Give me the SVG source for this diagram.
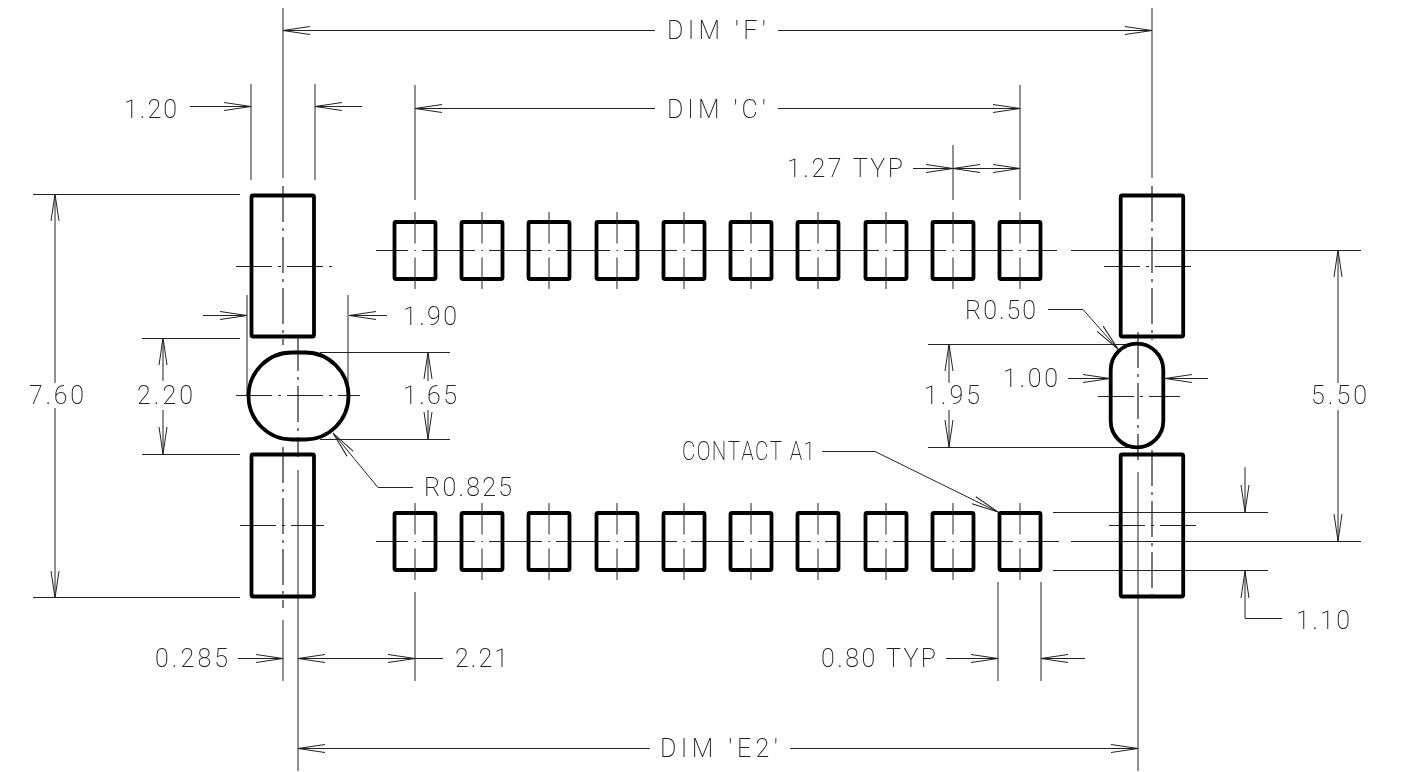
<svg xmlns="http://www.w3.org/2000/svg" xmlns:xlink="http://www.w3.org/1999/xlink" width="1403" height="772" viewBox="0 0 1403 772">
<style>
text{font-family:"Roboto","Liberation Sans",sans-serif;font-weight:200;font-size:25px;fill:#222;font-kerning:none}
#labels{filter:url(#gray)}
.pad{fill:none;stroke:#000;stroke-width:3.800;stroke-linejoin:round}
.t{fill:none;stroke:#222;stroke-width:1}
.a{marker-end:url(#arr)}
.b{marker-start:url(#arr);marker-end:url(#arr)}
.c{fill:none;stroke:#222;stroke-width:1.200;stroke-dasharray:36 6 3 6}
</style>
<defs>
<filter id="gray" filterUnits="userSpaceOnUse" x="0" y="0" width="1403" height="772" color-interpolation-filters="sRGB"><feOffset dx="0" dy="0"/></filter>
<marker id="arr" markerUnits="userSpaceOnUse" markerWidth="30" markerHeight="12" refX="27" refY="6" orient="auto-start-reverse" viewBox="0 0 30 12">
<path d="M0 2L27 6L0 10" fill="none" stroke="#222" stroke-width="1"/>
</marker>
<g id="smallpad">
<rect class="pad" x="-20.500" y="-28.500" width="41" height="57" rx="1.500"/>
<path class="t" d="M0-38.500V-7M0 7V38.500M-.5 0H1"/>
</g>
</defs>

<g id="connectors">
<path class="t" d="M283 8V178M1152 8V178M251 84V180M315 84V180M415 85V200M1020 85V200M953 145V200
M33 194.500H240M33 597.500H240M142 338.500H240M142 454.500H240
M247 295V395M348 295V395M320 352.500H450M320 439.500H450
M928 344.500H1135M928 447.500H1135
M298 470V771M1138 472V771
M283 620V681M415 592V681M998 582V681M1041 582V681
M1071 250.500H1361M1071 541.500H1361M1053 512.500H1268M1053 570.500H1268"/>
<path class="t" d="M376 250.500H408M422 250.500H475M489 250.500H542M556 250.500H610M624 250.500H677M691 250.500H744M758 250.500H811M825 250.500H879M893 250.500H946M960 250.500H1013M1027 250.500H1057
M376 541.500H408M422 541.500H475M489 541.500H542M556 541.500H610M624 541.500H677M691 541.500H744M758 541.500H811M825 541.500H879M893 541.500H946M960 541.500H1013M1027 541.500H1059"/>
<path class="c" d="M283 186V345M283 447V608M298 335V457M1152 186V340M1152 450V603M1138 332V460M236 266.500H332M240 525.500H324M236 395.500H360M1104 266.500H1195M1098 396.500H1180M1109 525.500H1198"/>
<path class="t a" d="M655 30.500H283"/>
<path class="t a" d="M778 30.500H1152"/>
<path class="t a" d="M655 108.500H415"/>
<path class="t a" d="M778 108.500H1020"/>
<path class="t a" d="M190 106.500H251"/>
<path class="t a" d="M362 106.500H315"/>
<path class="t a" d="M913 168.500H953"/>
<path class="t b" d="M953 168.500H1020"/>
<path class="t a" d="M55 383V194"/>
<path class="t a" d="M55 408V598"/>
<path class="t a" d="M163 381V338"/>
<path class="t a" d="M163 410V454"/>
<path class="t a" d="M203 315.500H247"/>
<path class="t a" d="M387 315.500H349"/>
<path class="t a" d="M428 381V352"/>
<path class="t a" d="M428 410V439"/>
<path class="t a" d="M413 487.500H378L333 433"/>
<path class="t a" d="M1048 309.500H1083L1118 349"/>
<path class="t a" d="M1068 378.500H1110"/>
<path class="t a" d="M1208 378.500H1165"/>
<path class="t a" d="M949 383V344"/>
<path class="t a" d="M949 410V447"/>
<path class="t a" d="M1338 383V250"/>
<path class="t a" d="M1338 410V541"/>
<path class="t a" d="M822 451.500H875L998 512"/>
<path class="t a" d="M1245 467V512"/>
<path class="t a" d="M1282 618.500H1245V571"/>
<path class="t a" d="M238 658.500H283"/>
<path class="t b" d="M298 658.500H415"/>
<path class="t" d="M415 658.500H443"/>
<path class="t a" d="M946 658.500H998"/>
<path class="t a" d="M1085 658.500H1041"/>
<path class="t a" d="M650 748.500H298"/>
<path class="t a" d="M790 748.500H1138"/>
</g>

<g id="pad-left-top"><rect class="pad" x="251.500" y="195.500" width="62.500" height="141" rx="1.500"/></g>
<g id="pad-left-bottom"><rect class="pad" x="251.500" y="454.500" width="62.500" height="142" rx="1.500"/></g>
<g id="pad-right-top"><rect class="pad" x="1120.700" y="195.500" width="62.500" height="141" rx="1.500"/></g>
<g id="pad-right-bottom"><rect class="pad" x="1120.700" y="454.500" width="62.500" height="142" rx="1.500"/></g>
<g id="hole-left"><rect class="pad" x="248.500" y="352.500" width="100" height="87" rx="43.500"/></g>
<g id="hole-right"><rect class="pad" x="1110.700" y="343.700" width="52.600" height="103.600" rx="26.300"/></g>

<g id="pads-top">
<use id="t1" href="#smallpad" x="415" y="250.500"/><use id="t2" href="#smallpad" x="482" y="250.500"/><use id="t3" href="#smallpad" x="549" y="250.500"/><use id="t4" href="#smallpad" x="617" y="250.500"/><use id="t5" href="#smallpad" x="684" y="250.500"/><use id="t6" href="#smallpad" x="751" y="250.500"/><use id="t7" href="#smallpad" x="818" y="250.500"/><use id="t8" href="#smallpad" x="886" y="250.500"/><use id="t9" href="#smallpad" x="953" y="250.500"/><use id="t10" href="#smallpad" x="1020" y="250.500"/>
</g>
<g id="pads-bottom">
<use id="b1" href="#smallpad" x="415" y="541.500"/><use id="b2" href="#smallpad" x="482" y="541.500"/><use id="b3" href="#smallpad" x="549" y="541.500"/><use id="b4" href="#smallpad" x="617" y="541.500"/><use id="b5" href="#smallpad" x="684" y="541.500"/><use id="b6" href="#smallpad" x="751" y="541.500"/><use id="b7" href="#smallpad" x="818" y="541.500"/><use id="b8" href="#smallpad" x="886" y="541.500"/><use id="b9" href="#smallpad" x="953" y="541.500"/><use id="b10" href="#smallpad" x="1020" y="541.500"/>
</g>

<g id="labels">
<text x="667" y="39" textLength="99">DIM 'F'</text>
<text x="667" y="118" textLength="99">DIM 'C'</text>
<text x="124" y="118" textLength="53">1.20</text>
<text x="787" y="177" textLength="116">1.27 TYP</text>
<text x="403" y="325" textLength="54">1.90</text>
<text x="965" y="319" textLength="71">R0.50</text>
<text x="29" y="404" textLength="55">7.60</text>
<text x="137" y="404" textLength="56">2.20</text>
<text x="403" y="404" textLength="54">1.65</text>
<text x="924" y="404" textLength="56">1.95</text>
<text x="1003" y="387" textLength="55">1.00</text>
<text x="1311" y="404" textLength="56">5.50</text>
<text transform="translate(682 460) scale(.82 1)" textLength="162">CONTACT A1</text>
<text x="424" y="496" textLength="88">R0.825</text>
<text x="1296" y="629" textLength="54">1.10</text>
<text x="155" y="667" textLength="73">0.285</text>
<text x="455" y="667" textLength="53">2.21</text>
<text x="821" y="667" textLength="115">0.80 TYP</text>
<text x="660" y="757" textLength="118">DIM 'E2'</text>
</g>
</svg>
